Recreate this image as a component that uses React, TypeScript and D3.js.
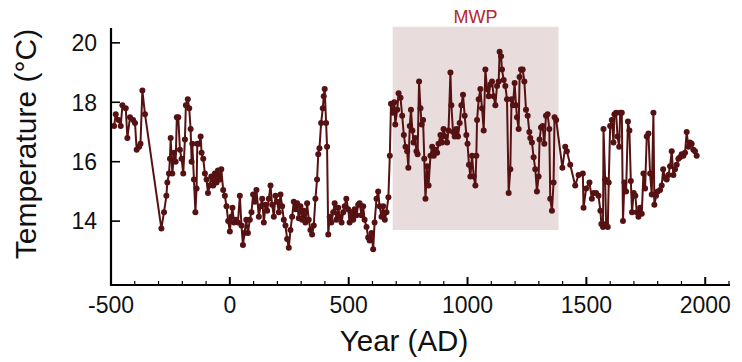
import React from "react";
import * as d3 from "d3";

const years: number[] = [
  -487, -480, -468, -459, -452, -438, -431, -420, -407, -399, -392, -382, -376, -368, -357,
  -288, -277, -267, -263, -256, -252, -249, -242, -235, -228, -223, -217, -210, -203, -196,
  -189, -185, -177, -171, -165, -161, -158, -151, -145, -140, -137, -129, -123, -119, -112,
  -105, -98, -92, -85, -78, -70, -63, -56, -50, -42, -36, -28, -21, -14, -7,
  0, 6, 11, 17, 25, 34, 42, 49, 55, 62, 69, 76, 84, 91, 98,
  105, 112, 122, 129, 136, 143, 150, 157, 164, 171, 178, 185, 192, 199, 206,
  213, 220, 227, 234, 241, 248, 255, 262, 269, 276, 283, 290, 297, 304, 311,
  318, 325, 332, 339, 346, 353, 360, 367, 372, 377, 384, 391, 395, 399, 405,
  409, 414, 420, 427, 435, 441, 448, 456, 462, 470, 477, 483, 490, 498, 504,
  512, 519, 525, 533, 540, 546, 554, 561, 567, 575, 582, 588, 596, 603, 609,
  617, 624, 630, 638, 645, 652, 659, 667, 673, 678, 686, 692, 696, 704, 710,
  718, 725, 732, 739, 746, 751, 757, 762, 768, 773, 779, 785, 790, 796, 802,
  807, 813, 818, 823, 830, 836, 844, 851, 858, 864, 872, 878, 886, 893, 899,
  907, 914, 920, 928, 932, 939, 946, 953, 960, 967, 974, 981, 988, 995, 1000,
  1006, 1012, 1019, 1026, 1033, 1037, 1040, 1047, 1054, 1061, 1068, 1075, 1082, 1089, 1096,
  1103, 1110, 1117, 1124, 1131, 1135, 1141, 1145, 1152, 1159, 1166, 1173, 1180, 1185, 1191,
  1198, 1204, 1208, 1215, 1219, 1225, 1232, 1239, 1246, 1253, 1260, 1264, 1271, 1278, 1285,
  1292, 1299, 1303, 1309, 1316, 1323, 1330, 1337, 1344, 1348, 1355, 1362, 1366, 1373, 1399,
  1411, 1418, 1432, 1453, 1467, 1485, 1488, 1499, 1513, 1523, 1530, 1541, 1551, 1559, 1563,
  1570, 1572, 1579, 1583, 1590, 1594, 1600, 1607, 1614, 1618, 1625, 1631, 1638, 1642, 1649,
  1654, 1660, 1667, 1675, 1681, 1687, 1692, 1699, 1706, 1712, 1719, 1726, 1733, 1740, 1747,
  1754, 1761, 1768, 1775, 1782, 1786, 1793, 1800, 1810, 1817, 1823, 1831, 1838, 1845, 1852,
  1859, 1866, 1873, 1880, 1887, 1894, 1901, 1908, 1915, 1922, 1929, 1936, 1943, 1950, 1957,
  1964,
];

const temps: number[] = [
  17.2, 17.6, 17.4, 17.2, 17.9, 17.8, 16.8, 17.5, 17.4, 17.3, 16.4, 16.5, 16.6, 18.4, 17.6,
  13.75, 14.3, 14.85, 15.3, 15.6, 16.1, 16.8, 15.6, 16.3, 16.0, 17.5, 17.5, 16.4, 16.1, 15.6,
  16.75, 17.9, 18.1, 17.8, 17.1, 16.0, 16.6, 15.4, 14.3, 15.1, 16.6, 16.6, 16.85, 16.3, 16.1,
  15.6, 15.4, 14.95, 15.2, 15.5, 15.2, 15.6, 15.3, 15.7, 15.4, 15.75, 15.05, 14.85, 14.5, 14.0,
  13.65, 14.15, 14.45, 13.95, 14.05, 13.95, 14.85, 13.85, 13.2, 13.6, 14.05, 13.6, 14.05, 14.3, 14.9,
  14.65, 15.05, 14.15, 14.5, 14.75, 13.95, 14.55, 14.35, 14.75, 15.2, 14.55, 14.15, 14.85, 14.65, 14.3,
  14.9, 14.5, 14.05, 13.85, 13.4, 13.1, 13.7, 14.15, 14.65, 14.4, 14.6, 14.1, 14.5, 14.05, 14.35,
  13.95, 14.6, 14.05, 13.7, 13.55, 13.85, 14.75, 15.4, 16.25, 16.45, 17.3, 17.8, 18.2, 18.45, 17.3,
  16.5, 13.55, 14.15, 13.95, 14.3, 14.6, 14.05, 14.45, 14.15, 13.95, 14.3, 14.5, 14.75, 14.4, 13.95,
  14.3, 14.05, 14.4, 14.2, 14.55, 14.6, 14.2, 14.5, 14.05, 13.8, 13.45, 13.35, 13.6, 13.05, 13.95,
  14.75, 15.0, 14.5, 14.15, 14.5, 14.05, 14.3, 14.8, 16.2, 17.95, 17.65, 18.0, 17.25, 17.75, 18.3,
  18.15, 17.55, 16.9, 16.5, 16.35, 15.8, 17.2, 17.75, 17.05, 16.65, 16.8, 16.35, 16.25, 18.7, 17.8,
  17.25, 17.4, 16.1, 14.75, 15.85, 15.2, 16.2, 16.5, 16.2, 16.4, 16.3, 16.6, 16.9, 16.65, 17.1,
  16.85, 16.65, 17.05, 19.0, 17.9, 17.0, 16.85, 17.1, 16.85, 17.3, 17.9, 18.25, 17.55, 16.9, 16.6,
  15.9, 15.5, 16.2, 15.5, 15.2, 16.2, 17.4, 18.1, 18.45, 17.8, 17.05, 19.1, 18.45, 18.2, 18.6,
  18.7, 18.2, 17.9, 18.55, 18.7, 19.7, 19.55, 19.1, 18.75, 18.55, 18.1, 14.95, 15.75, 18.1, 17.9,
  18.65, 17.9, 17.5, 17.1, 18.85, 19.1, 19.1, 18.7, 17.75, 17.55, 17.0, 16.8, 16.65, 16.15, 15.75,
  15.0, 15.5, 16.75, 17.15, 17.2, 16.6, 17.55, 17.6, 17.1, 14.75, 14.35, 15.3, 17.5, 17.4, 15.8,
  16.5, 16.35, 15.9, 15.2, 15.55, 15.6, 14.45, 15.1, 15.3, 14.75, 14.95, 14.95, 14.85, 14.35, 13.9,
  13.8, 17.1, 15.4, 13.9, 13.8, 15.3, 17.2, 17.4, 16.65, 17.6, 17.65, 16.85, 16.5, 17.65, 17.65,
  14.0, 15.3, 15.0, 17.35, 17.05, 15.35, 14.3, 14.95, 14.85, 14.3, 14.15, 14.45, 14.25, 15.6, 15.1,
  16.85, 16.95, 15.6, 14.9, 17.65, 14.55, 14.85, 15.0, 15.05, 15.2, 15.75, 15.45, 15.4, 15.55, 15.85,
  16.35, 15.55, 15.75, 15.9, 16.1, 16.15, 16.25, 16.2, 16.3, 17.0, 16.5, 16.65, 16.6, 16.4, 16.35,
  16.2,
];

const xTickValues: number[] = [-500, 0, 500, 1000, 1500, 2000];
const yTickValues: number[] = [14, 16, 18, 20];
const mwpStart = 685;
const mwpEnd = 1383;
const mwpLabel = "MWP";
const xTitle = "Year (AD)";
const yTitle = "Temperature (°C)";

const W = 742;
const H = 362;
const FONT = "'Liberation Sans', Arial, Helvetica, sans-serif";
const LINE = "#561212";

export default function App() {
  const x = d3.scaleLinear().domain([-500, 2100]).range([111, 729]);
  const y = d3.scaleLinear().domain([11.85, 20.5]).range([285, 28]);
  const data = years.map((yr, i) => ({ yr, t: temps[i] }));
  const line = d3
    .line<{ yr: number; t: number }>()
    .x((d) => x(d.yr))
    .y((d) => y(d.t));
  const minor = d3.range(-400, 2101, 100).filter((v) => v % 500 !== 0);

  return (
    <svg
      width={W}
      height={H}
      style={{ position: "absolute", left: 0, top: 0, background: "#fff" }}
      fontFamily={FONT}
    >
      <rect
        x={x(mwpStart)}
        y={y(20.54)}
        width={x(mwpEnd) - x(mwpStart)}
        height={y(13.7) - y(20.54)}
        fill="#e9dcdd"
      />
      <text
        x={(x(mwpStart) + x(mwpEnd)) / 2}
        y={22.5}
        textAnchor="middle"
        fontSize={18}
        fill="#b3272d"
      >
        {mwpLabel}
      </text>
      <path
        d={line(data) || ""}
        fill="none"
        stroke={LINE}
        strokeWidth={2}
        strokeLinejoin="round"
      />
      {data.map((d, i) => (
        <circle key={i} cx={x(d.yr)} cy={y(d.t)} r={3} fill={LINE} />
      ))}
      {/* axes */}
      <line x1={111} x2={111} y1={28} y2={286} stroke="#000" strokeWidth={2.2} />
      <line x1={110} x2={730} y1={285} y2={285} stroke="#000" strokeWidth={2.2} />
      {yTickValues.map((v) => (
        <g key={v}>
          <line x1={111} x2={120} y1={y(v)} y2={y(v)} stroke="#000" strokeWidth={1.6} />
          <text x={97} y={y(v)} dy="0.36em" textAnchor="end" fontSize={23} fill="#111">
            {v}
          </text>
        </g>
      ))}
      {xTickValues.map((v) => (
        <g key={v}>
          <line x1={x(v)} x2={x(v)} y1={285} y2={277} stroke="#000" strokeWidth={2} />
          <text x={x(v)} y={313} textAnchor="middle" fontSize={23} fill="#111">
            {v}
          </text>
        </g>
      ))}
      {minor.map((v) => (
        <line key={v} x1={x(v)} x2={x(v)} y1={285} y2={281} stroke="#000" strokeWidth={1.2} />
      ))}
      <text x={404} y={351} textAnchor="middle" fontSize={29.5} fill="#111">
        {xTitle}
      </text>
      <text
        transform={`translate(36,144) rotate(-90)`}
        textAnchor="middle"
        fontSize={30}
        fill="#111"
      >
        {yTitle}
      </text>
    </svg>
  );
}
